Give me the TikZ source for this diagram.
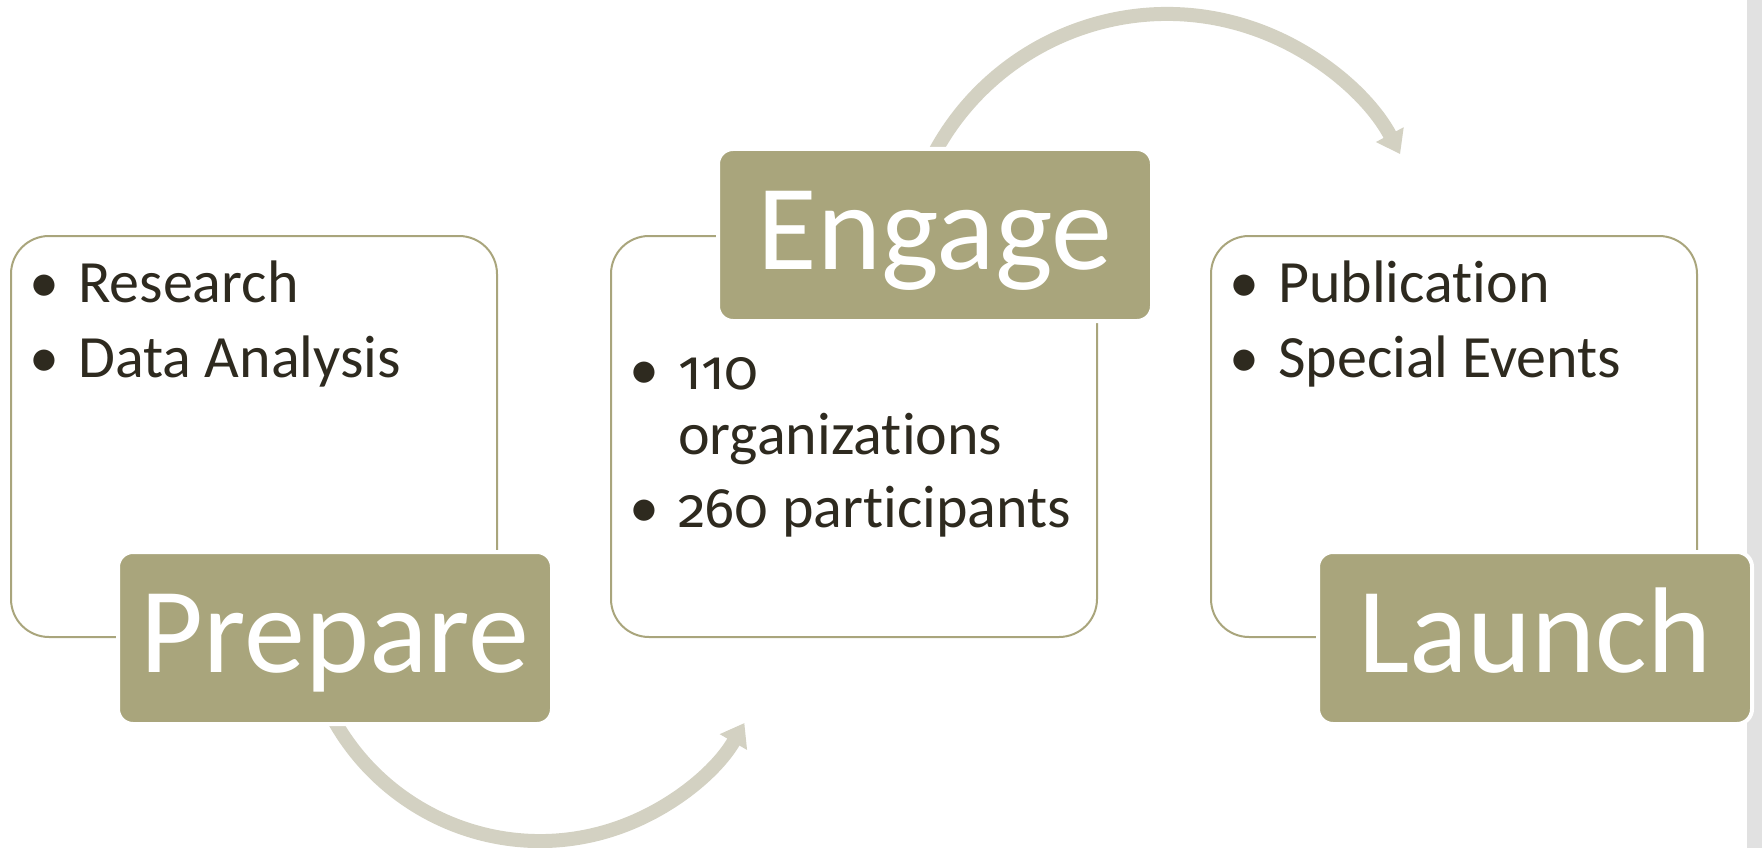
\documentclass[tikz,border=0pt]{standalone}
\usepackage{fontspec}
\setmainfont{Carlito}[Ligatures=NoCommon]
\newfontfamily\osf{Fira Sans}[Numbers=OldStyle, Scale=0.93]
\usetikzlibrary{arrows.meta}
\definecolor{olive}{HTML}{A9A57C}
\definecolor{arrowc}{HTML}{D3D1C2}
\definecolor{txt}{HTML}{2E2A1F}
\definecolor{stripc}{HTML}{E1E1E1}
\begin{document}
\begin{tikzpicture}[x=1pt,y=-1pt,
  outline/.style={draw=olive, line width=2pt, rounded corners=38pt, minimum width=486pt, minimum height=401pt, anchor=north west, inner sep=0pt},
  titlebox/.style={fill=olive, draw=white, line width=4pt, rounded corners=15pt, minimum width=434pt, minimum height=172pt, anchor=north west, inner sep=0pt, text=white, font=\fontsize{122}{122}\selectfont, text height=92pt, text depth=24pt},
  bul/.style={anchor=base west, inner sep=0pt, text=txt, font=\fontsize{60}{60}\selectfont},
  item/.style={anchor=base west, inner sep=0pt, text=txt, font=\fontsize{60}{60}\selectfont},
  flow/.style={draw=arrowc, line width=14pt, -{Triangle[width=30pt,length=22pt]}}
]
\useasboundingbox (0,0) rectangle (1762,848);
\fill[stripc] (1747,0) rectangle (1762,848);
% arrows
\coordinate (c1) at (540,605);
\coordinate (c2) at (1167,278);
\draw[flow] ([shift={(160:236)}]c1) arc[start angle=160, end angle=30, radius=236];
\draw[flow] ([shift={(200:264)}]c2) arc[start angle=200, end angle=332, radius=264];
% outline boxes
\node[outline] (b1) at (10,235) {};
\node[outline] (b2) at (610,235) {};
\node[outline] (b3) at (1210,235) {};
% title boxes
\node[titlebox] (t1) at (116,550) {Prepare};
\node[titlebox] (t2) at (716,147) {Engage};
\node[titlebox] (t3) at (1316,550) {Launch};
% items
\node[bul] (d11) at (29,302) {•};
\node[item] (i11) at (78,302) {Research};
\node[bul] (d12) at (29,377) {•};
\node[item] (i12) at (78,377) {Data Analysis};
\node[bul] (d21) at (629,389) {•};
\node[item] (i21) at (678,389) {{\osf 110}};
\node[item] (i21b) at (678,454) {organizations};
\node[bul] (d22) at (629,527) {•};
\node[item] (i22) at (678,527) {{\osf 260} participants};
\node[bul] (d31) at (1229,302) {•};
\node[item] (i31) at (1278,302) {Publication};
\node[bul] (d32) at (1229,377) {•};
\node[item] (i32) at (1278,377) {Special Events};
\end{tikzpicture}
\end{document}
